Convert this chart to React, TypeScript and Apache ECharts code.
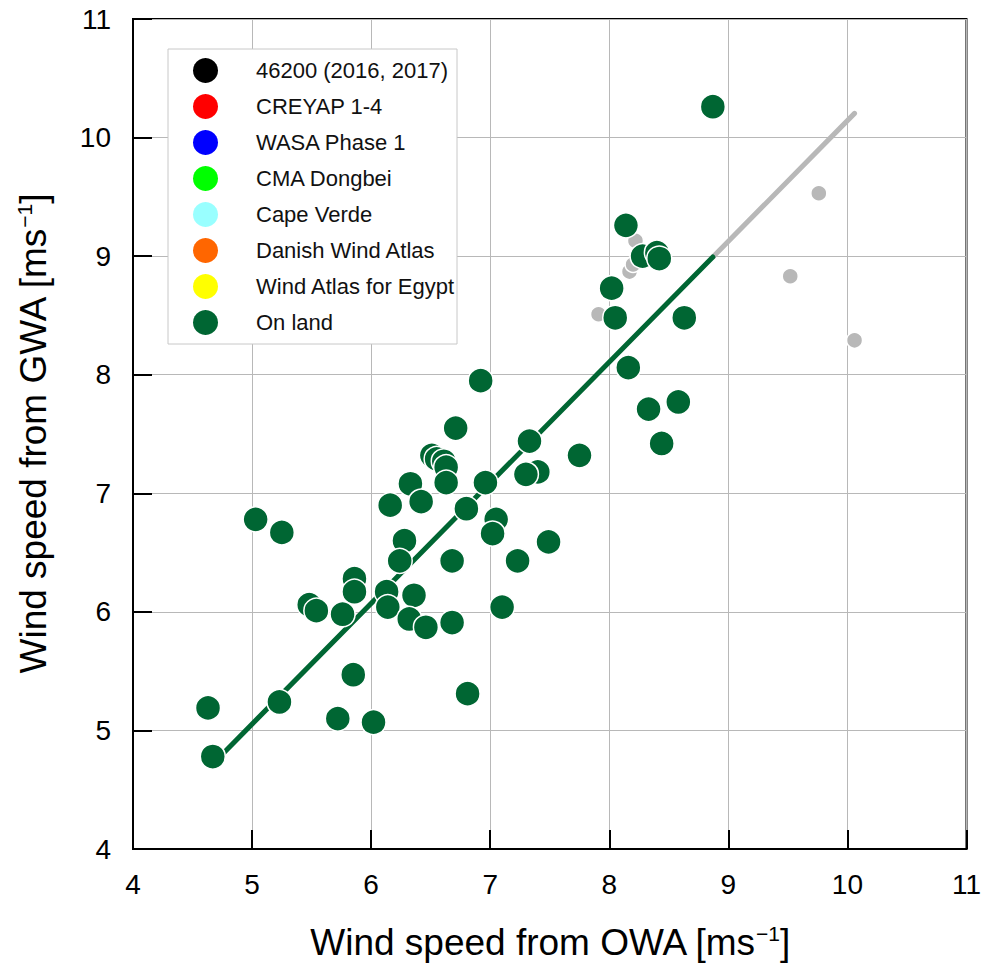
import React, { useEffect, useRef } from "react";
import * as echarts from "echarts";

// On-land stations (dark green)
const landX = [8.87, 8.14, 8.28, 8.40, 8.42, 8.02, 8.05, 8.63, 8.16, 8.33, 8.58, 8.44, 7.75, 7.33, 7.40, 7.30, 6.96, 6.92, 6.71, 6.51, 6.55, 6.61, 6.63, 6.63, 6.33, 6.42, 6.16, 6.80, 7.05, 7.02, 7.49, 7.23, 6.68, 7.10, 5.03, 5.25, 6.28, 6.24, 5.86, 5.86, 5.48, 5.54, 5.76, 6.13, 6.14, 6.36, 6.32, 6.46, 6.68, 5.85, 6.81, 5.23, 5.72, 6.02, 4.63, 4.67];
const landY = [10.26, 9.26, 9.00, 9.03, 8.98, 8.73, 8.48, 8.48, 8.06, 7.71, 7.77, 7.42, 7.32, 7.44, 7.18, 7.16, 7.09, 7.95, 7.55, 7.32, 7.29, 7.27, 7.22, 7.09, 7.08, 6.93, 6.90, 6.87, 6.78, 6.66, 6.59, 6.43, 6.43, 6.04, 6.78, 6.67, 6.60, 6.43, 6.28, 6.17, 6.06, 6.01, 5.98, 6.17, 6.04, 6.14, 5.94, 5.87, 5.91, 5.47, 5.31, 5.24, 5.10, 5.07, 5.19, 4.78];

// Other (grey) stations
const greyX = [9.76, 9.52, 10.06, 8.22, 8.17, 8.20, 7.91];
const greyY = [9.53, 8.83, 8.29, 9.13, 8.87, 8.93, 8.51];

// Fit line coefficients
const fitSlope = 1.018;
const fitIntercept = -0.037;

// Legend entries
const legendNames = ["46200 (2016, 2017)", "CREYAP 1-4", "WASA Phase 1", "CMA Dongbei", "Cape Verde", "Danish Wind Atlas", "Wind Atlas for Egypt", "On land"];
const legendColors = ["#000000", "#ff0000", "#0000ff", "#00ff00", "#99ffff", "#ff6600", "#ffff00", "#006633"];

const axisMin = 4;
const axisMax = 11;
const axisStep = 1;

const FONT = "'Liberation Sans', Arial, Helvetica, sans-serif";

export default function App() {
  const ref = useRef<HTMLDivElement>(null);
  useEffect(() => {
    if (!ref.current) return;
    const chart = echarts.init(ref.current, undefined, { renderer: "svg" });
    const landPts = landX.map((x, i) => [x, landY[i]]);
    const greyPts = greyX.map((x, i) => [x, greyY[i]]);
    const lowIdx = landY.indexOf(Math.min(...landY));
    const lineStart = landX[lowIdx];
    const landMax = Math.max(...landX);
    const greyMax = Math.max(...greyX);
    const f = (x: number) => fitIntercept + fitSlope * x;
    const greenLine = [[lineStart, f(lineStart)], [landMax, f(landMax)]];
    const greyLine = [[landMax, f(landMax)], [greyMax, f(greyMax)]];

    const dummySeries = legendNames.slice(0, 7).map((n, i) => ({
      name: n,
      type: "scatter",
      data: [],
      symbol: "circle",
      itemStyle: { color: legendColors[i], opacity: 1 },
    }));

    chart.setOption({
      animation: false,
      backgroundColor: "#ffffff",
      textStyle: { fontFamily: FONT },
      grid: {
        left: 133,
        top: 19,
        right: 17,
        bottom: 115,
        show: true,
        borderColor: "#000",
        borderWidth: 2,
        backgroundColor: "transparent",
      },
      legend: {
        data: legendNames,
        orient: "vertical",
        left: 193,
        top: 58,
        padding: 0,
        itemWidth: 25,
        itemHeight: 25,
        itemGap: 11,
        icon: "circle",
        itemStyle: { borderWidth: 0, opacity: 1 },
        selectedMode: false,
        textStyle: { fontSize: 22, color: "#111", fontFamily: FONT, padding: [0, 0, 0, 33] },
        z: 5,
      },
      graphic: {
        elements: [
          {
            type: "rect",
            z: 3,
            shape: { x: 168, y: 49, width: 289, height: 295 },
            style: { fill: "#ffffff", stroke: "#c8c8c8", lineWidth: 1 },
          },
        ],
      },
      xAxis: {
        type: "value",
        min: axisMin,
        max: axisMax,
        interval: axisStep,
        name: "Wind speed from OWA [ms{sup|−1}]",
        nameLocation: "middle",
        nameGap: 74,
        nameTextStyle: {
          fontSize: 37,
          color: "#000",
          fontFamily: FONT,
          rich: { sup: { fontSize: 21, padding: [0, 0, 18, 0], fontFamily: FONT, color: "#000" } },
        },
        axisLine: { show: true, lineStyle: { color: "#000", width: 2 } },
        axisTick: { show: true, inside: true, length: 19, lineStyle: { color: "#000", width: 2 } },
        axisLabel: { fontSize: 28, color: "#000", margin: 21, fontFamily: FONT },
        splitLine: { show: true, lineStyle: { color: "#b8b8b8", width: 1 } },
      },
      yAxis: {
        type: "value",
        min: axisMin,
        max: axisMax,
        interval: axisStep,
        name: "Wind speed from GWA [ms{sup|−1}]",
        nameLocation: "middle",
        nameGap: 80,
        nameTextStyle: {
          fontSize: 37,
          color: "#000",
          fontFamily: FONT,
          rich: { sup: { fontSize: 21, padding: [0, 0, 18, 0], fontFamily: FONT, color: "#000" } },
        },
        axisLine: { show: true, lineStyle: { color: "#000", width: 2 } },
        axisTick: { show: true, inside: true, length: 19, lineStyle: { color: "#000", width: 2 } },
        axisLabel: { fontSize: 28, color: "#000", margin: 22, fontFamily: FONT },
        splitLine: { show: true, lineStyle: { color: "#b8b8b8", width: 1 } },
      },
      series: [
        ...dummySeries,
        {
          name: "grey",
          type: "scatter",
          data: greyPts,
          symbolSize: 16,
          itemStyle: { color: "#b8b8b8", borderColor: "#ffffff", borderWidth: 1.5, opacity: 1 },
          z: 2,
        },
        {
          name: "greyFit",
          type: "line",
          data: greyLine,
          showSymbol: false,
          symbol: "none",
          lineStyle: { color: "#b8b8b8", width: 5, cap: "round" },
          z: 2,
        },
        {
          name: "landFit",
          type: "line",
          data: greenLine,
          showSymbol: false,
          symbol: "none",
          lineStyle: { color: "#006633", width: 5, cap: "round" },
          z: 3,
        },
        {
          name: "On land",
          type: "scatter",
          data: landPts,
          symbolSize: 25,
          itemStyle: { color: "#006633", borderColor: "#ffffff", borderWidth: 1.5, opacity: 1 },
          z: 4,
        },
      ],
    });
    return () => chart.dispose();
  }, []);
  return (
    <div
      ref={ref}
      style={{ position: "fixed", left: 0, top: 0, width: 984, height: 966, background: "#fff" }}
    />
  );
}
